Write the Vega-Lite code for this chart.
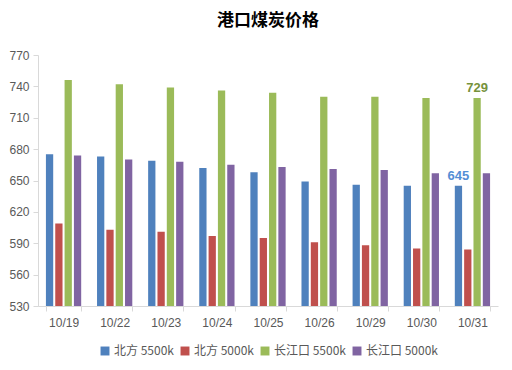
{
  "$schema": "https://vega.github.io/schema/vega-lite/v6.json",
  "width": 512,
  "height": 370,
  "autosize": {"type": "fit", "contains": "padding"},
  "padding": {"left": 8, "right": 14, "top": 12, "bottom": 13},
  "background": "white",
  "title": {
    "text": "港口煤炭价格",
    "fontSize": 17,
    "fontWeight": "bold",
    "font": "Noto Sans CJK SC",
    "color": "#000000",
    "offset": 19
  },
  "data": {
    "values": [
      {"date": "10/19", "series": "北方 5500k", "value": 675},
      {"date": "10/19", "series": "北方 5000k", "value": 609},
      {"date": "10/19", "series": "长江口 5500k", "value": 746},
      {"date": "10/19", "series": "长江口 5000k", "value": 674},
      {"date": "10/22", "series": "北方 5500k", "value": 673},
      {"date": "10/22", "series": "北方 5000k", "value": 603},
      {"date": "10/22", "series": "长江口 5500k", "value": 742},
      {"date": "10/22", "series": "长江口 5000k", "value": 670},
      {"date": "10/23", "series": "北方 5500k", "value": 669},
      {"date": "10/23", "series": "北方 5000k", "value": 601},
      {"date": "10/23", "series": "长江口 5500k", "value": 739},
      {"date": "10/23", "series": "长江口 5000k", "value": 668},
      {"date": "10/24", "series": "北方 5500k", "value": 662},
      {"date": "10/24", "series": "北方 5000k", "value": 597},
      {"date": "10/24", "series": "长江口 5500k", "value": 736},
      {"date": "10/24", "series": "长江口 5000k", "value": 665},
      {"date": "10/25", "series": "北方 5500k", "value": 658},
      {"date": "10/25", "series": "北方 5000k", "value": 595},
      {"date": "10/25", "series": "长江口 5500k", "value": 734},
      {"date": "10/25", "series": "长江口 5000k", "value": 663},
      {"date": "10/26", "series": "北方 5500k", "value": 649},
      {"date": "10/26", "series": "北方 5000k", "value": 591},
      {"date": "10/26", "series": "长江口 5500k", "value": 730},
      {"date": "10/26", "series": "长江口 5000k", "value": 661},
      {"date": "10/29", "series": "北方 5500k", "value": 646},
      {"date": "10/29", "series": "北方 5000k", "value": 588},
      {"date": "10/29", "series": "长江口 5500k", "value": 730},
      {"date": "10/29", "series": "长江口 5000k", "value": 660},
      {"date": "10/30", "series": "北方 5500k", "value": 645},
      {"date": "10/30", "series": "北方 5000k", "value": 585},
      {"date": "10/30", "series": "长江口 5500k", "value": 729},
      {"date": "10/30", "series": "长江口 5000k", "value": 657},
      {"date": "10/31", "series": "北方 5500k", "value": 645},
      {"date": "10/31", "series": "北方 5000k", "value": 584},
      {"date": "10/31", "series": "长江口 5500k", "value": 729},
      {"date": "10/31", "series": "长江口 5000k", "value": 657}
    ]
  },
  "encoding": {
    "x": {
      "field": "date",
      "type": "nominal",
      "sort": null,
      "title": null,
      "scale": {"paddingInner": 0.31, "paddingOuter": 0.155},
      "axis": {
        "labelAngle": 0,
        "labelFontSize": 12,
        "labelColor": "#595959",
        "labelFont": "Liberation Sans",
        "labelPadding": 6,
        "domainColor": "#D9D9D9",
        "tickColor": "#D9D9D9",
        "tickBand": "extent",
        "tickSize": 5
      }
    },
    "xOffset": {
      "field": "series",
      "type": "nominal",
      "sort": ["北方 5500k", "北方 5000k", "长江口 5500k", "长江口 5000k"],
      "scale": {"paddingInner": 0.22}
    },
    "y": {
      "field": "value",
      "type": "quantitative",
      "title": null,
      "scale": {"domain": [530, 770], "nice": false, "zero": false},
      "axis": {
        "values": [530, 560, 590, 620, 650, 680, 710, 740, 770],
        "grid": false,
        "labelFontSize": 12,
        "labelColor": "#595959",
        "labelFont": "Liberation Sans",
        "domainColor": "#D9D9D9",
        "tickColor": "#D9D9D9",
        "tickSize": 5,
        "labelPadding": 4
      }
    }
  },
  "layer": [
    {
      "mark": {"type": "bar", "clip": true},
      "encoding": {
        "color": {
          "field": "series",
          "type": "nominal",
          "sort": ["北方 5500k", "北方 5000k", "长江口 5500k", "长江口 5000k"],
          "scale": {
            "domain": ["北方 5500k", "北方 5000k", "长江口 5500k", "长江口 5000k"],
            "range": ["#4F81BD", "#C0504D", "#9BBB59", "#8064A2"]
          },
          "legend": {
            "title": null,
            "orient": "bottom",
            "direction": "horizontal",
            "symbolType": "square",
            "symbolSize": 80,
            "symbolStrokeWidth": 0,
            "labelFontSize": 12,
            "labelColor": "#595959",
            "labelFont": "Noto Sans CJK SC",
            "columnPadding": 5,
            "symbolOffset": 0,
            "labelOffset": 3,
            "offset": 17
          }
        }
      }
    },
    {
      "transform": [
        {"filter": "datum.date == '10/31' && (datum.series == '北方 5500k' || datum.series == '长江口 5500k')"}
      ],
      "mark": {"type": "text", "dy": -10, "fontSize": 13, "fontWeight": "bold", "font": "Liberation Sans"},
      "encoding": {
        "text": {"field": "value", "type": "quantitative"},
        "color": {
          "condition": {"test": "datum.series == '北方 5500k'", "value": "#558ED5"},
          "value": "#76923C"
        }
      }
    }
  ],
  "config": {
    "view": {"stroke": null},
    "legend": {"layout": {"bottom": {"anchor": "middle"}}}
  }
}
